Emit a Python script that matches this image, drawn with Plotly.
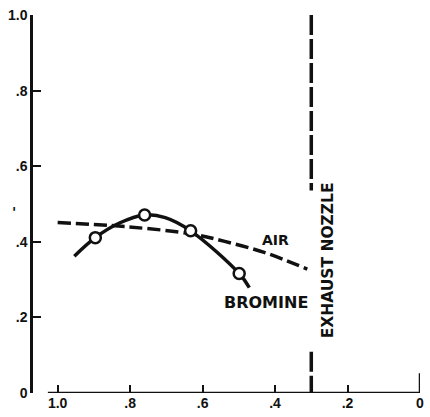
import plotly.graph_objects as go

# Bromine (solid curve) and test points (open circles)
bromine_x = [0.954, 0.896, 0.831, 0.760, 0.703, 0.633, 0.499, 0.471]
bromine_y = [0.362, 0.411, 0.449, 0.471, 0.464, 0.429, 0.316, 0.279]
bromine_pts_x = [0.896, 0.760, 0.633, 0.499]
bromine_pts_y = [0.411, 0.471, 0.429, 0.316]

# Air (dashed curve)
air_x = [1.000, 0.812, 0.631, 0.539, 0.430, 0.311]
air_y = [0.451, 0.440, 0.421, 0.401, 0.372, 0.328]

# Exhaust nozzle location
nozzle_x = 0.3
nozzle_upper = [1.0, 0.536]
nozzle_lower = [0.109, 0.0]

tick_vals = [1.0, 0.8, 0.6, 0.4, 0.2, 0.0]
x_tick_text = ["1.0", ".8", ".6", ".4", ".2", "0"]
y_tick_text = ["1.0", ".8", ".6", ".4", ".2", "0"]

BLACK = "#111111"
TICKFONT = dict(family="Liberation Sans", size=14, color=BLACK, weight="bold")
LABELFONT = "DejaVu Sans"

fig = go.Figure()

fig.add_trace(go.Scatter(x=air_x, y=air_y, mode="lines", line_shape="spline",
                         line=dict(color=BLACK, width=3.5, dash="13px,5px"),
                         hoverinfo="skip"))
fig.add_trace(go.Scatter(x=bromine_x, y=bromine_y, mode="lines", line_shape="spline",
                         line=dict(color=BLACK, width=3.5), hoverinfo="skip"))
fig.add_trace(go.Scatter(x=bromine_pts_x, y=bromine_pts_y, mode="markers",
                         marker=dict(symbol="circle", size=11, color="white",
                                     line=dict(color=BLACK, width=2.5)),
                         hoverinfo="skip"))
for seg in (nozzle_upper, nozzle_lower):
    fig.add_trace(go.Scatter(x=[nozzle_x, nozzle_x], y=seg, mode="lines",
                             line=dict(color=BLACK, width=3.5, dash="20px,4px"),
                             hoverinfo="skip"))

# axis lines
fig.add_shape(type="line", xref="x", yref="y", x0=1.027, x1=0.0, y0=0, y1=0,
              line=dict(color=BLACK, width=2.5))
fig.add_shape(type="line", xref="x", yref="y", x0=0.0, x1=0.0, y0=0, y1=0.052,
              line=dict(color=BLACK, width=2.5))

fig.add_annotation(x=0.399, y=0.406, text="AIR", showarrow=False,
                   font=dict(family=LABELFONT, size=14, color=BLACK, weight="bold"))
fig.add_annotation(x=0.425, y=0.240, text="BROMINE", showarrow=False,
                   font=dict(family=LABELFONT, size=16, color=BLACK, weight="bold"))
fig.add_annotation(x=0.255, y=0.350, text="EXHAUST NOZZLE", showarrow=False,
                   textangle=-90,
                   font=dict(family=LABELFONT, size=15.5, color=BLACK, weight="bold"))
fig.add_annotation(xref="paper", yref="paper", x=-0.06, y=0.48, text="'",
                   showarrow=False,
                   font=dict(family=LABELFONT, size=14, color=BLACK, weight="bold"))

fig.update_layout(
    width=430, height=417,
    margin=dict(l=33, r=6, t=15, b=18),
    paper_bgcolor="white", plot_bgcolor="white",
    showlegend=False,
    xaxis=dict(range=[1.068, 0.0], showgrid=False, zeroline=False, showline=False,
               tickmode="array", tickvals=tick_vals, ticktext=x_tick_text,
               ticks="inside", ticklen=8, tickwidth=2, tickcolor=BLACK,
               tickfont=TICKFONT),
    yaxis=dict(range=[0.0, 1.0], showgrid=False, zeroline=False, showline=True,
               linecolor=BLACK, linewidth=2.5,
               tickmode="array", tickvals=tick_vals, ticktext=y_tick_text,
               ticks="inside", ticklen=8, tickwidth=2, tickcolor=BLACK,
               tickfont=TICKFONT),
)

fig.write_html("out.html")
